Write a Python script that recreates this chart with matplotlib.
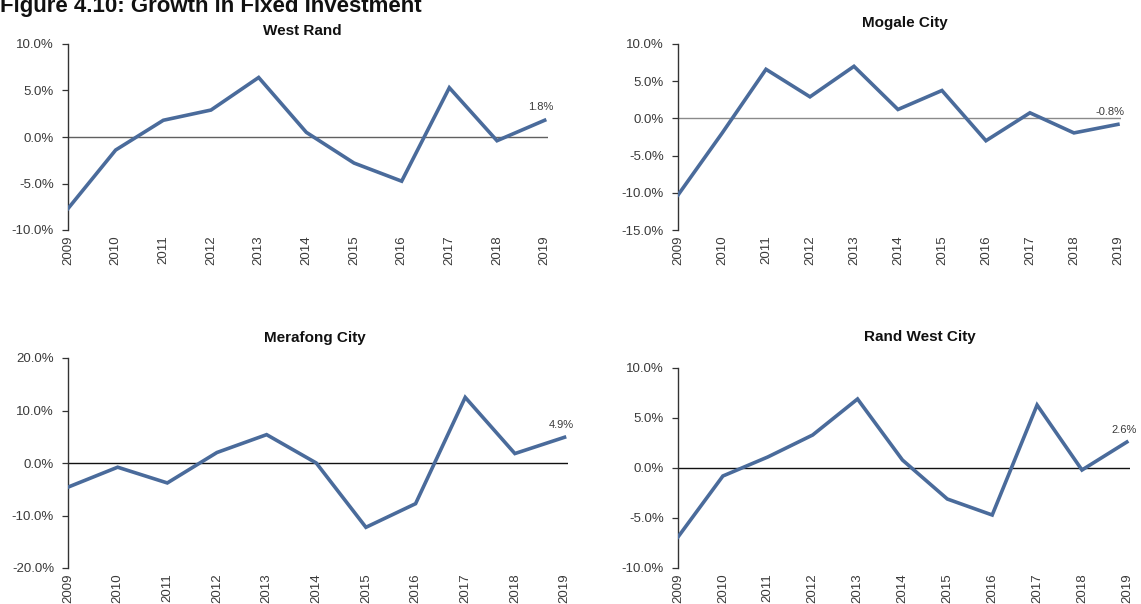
import matplotlib
matplotlib.use("Agg")
import matplotlib.pyplot as plt
from matplotlib.ticker import FuncFormatter

plt.rcParams['font.family'] = ['Liberation Sans', 'DejaVu Sans']

years = list(range(2009, 2020))

west_rand = [-7.7, -1.4, 1.8, 2.9, 6.4, 0.5, -2.8, -4.75, 5.3, -0.4, 1.8]
mogale_city = [-10.3, -2.0, 6.6, 2.9, 7.0, 1.2, 3.75, -3.0, 0.75, -1.95, -0.8]
merafong_city = [-4.6, -0.8, -3.8, 2.0, 5.4, 0.0, -12.25, -7.75, 12.5, 1.8, 4.9]
rand_west_city = [-6.9, -0.8, 1.1, 3.3, 6.9, 0.8, -3.1, -4.7, 6.3, -0.2, 2.6]

W, H = 1141, 604
LINE = '#4a6b9b'
TXT = '#3a3a3a'

fig = plt.figure(figsize=(W / 100, H / 100), dpi=100)
fig.patch.set_facecolor('white')


def px_axes(l, r, t, b):
    # axes box given in pixels from the top-left corner
    return fig.add_axes([l / W, 1 - b / H, (r - l) / W, (b - t) / H])


def panel(box, title, title_xy, vals, ylim, step, zero_col, lab_off):
    ax = px_axes(*box)
    ax.plot(years, vals, color=LINE, lw=2.6, solid_joinstyle='miter', zorder=3)
    ax.axhline(0, color=zero_col, lw=1.0, zorder=2)
    ax.set_xlim(2009, 2019.07)
    ax.set_ylim(*ylim)
    yt = [ylim[0] + i * step for i in range(int(round((ylim[1] - ylim[0]) / step)) + 1)]
    ax.set_yticks(yt)
    ax.yaxis.set_major_formatter(FuncFormatter(lambda v, p: f"{v:.1f}%"))
    ax.set_xticks(years)
    ax.set_xticklabels([str(y) for y in years], rotation=90)
    for s in ['top', 'right', 'bottom']:
        ax.spines[s].set_visible(False)
    ax.spines['left'].set_color('#333333')
    ax.spines['left'].set_linewidth(1.0)
    ax.tick_params(axis='y', direction='out', length=4, width=0.9, color='#333333',
                   labelsize=9.5, labelcolor=TXT, pad=6)
    ax.tick_params(axis='x', length=0, labelsize=9.5, labelcolor=TXT, pad=4)
    ax.patch.set_alpha(0)
    ax.annotate(f"{vals[-1]:.1f}%", (years[-1], vals[-1]), xytext=lab_off,
                textcoords='offset points', ha='center', va='bottom',
                fontsize=8, color=TXT, annotation_clip=False)
    fig.text(title_xy[0] / W, 1 - title_xy[1] / H, title, ha='center', va='center',
             fontsize=11, fontweight='bold', color='#111111')
    return ax


panel((68, 548, 44, 230), 'West Rand', (302, 31), west_rand, (-10, 10), 5, '#606060', (-3, 6))
panel((678, 1121, 44, 230), 'Mogale City', (905, 23), mogale_city, (-15, 10), 5, '#8a8a8a', (-6, 5))
panel((68, 568, 358, 568), 'Merafong City', (315, 338), merafong_city, (-20, 20), 10, '#111111', (-2, 5))
panel((678, 1130, 368, 568), 'Rand West City', (920, 337), rand_west_city, (-10, 10), 5, '#111111', (-2, 5))

fig.text(0.0, 1 - 12 / H, 'Figure 4.10: Growth in Fixed Investment', ha='left', va='baseline',
         fontsize=16, fontweight='bold', color='#111111')

fig.savefig('out.png', dpi=100, facecolor='white')
